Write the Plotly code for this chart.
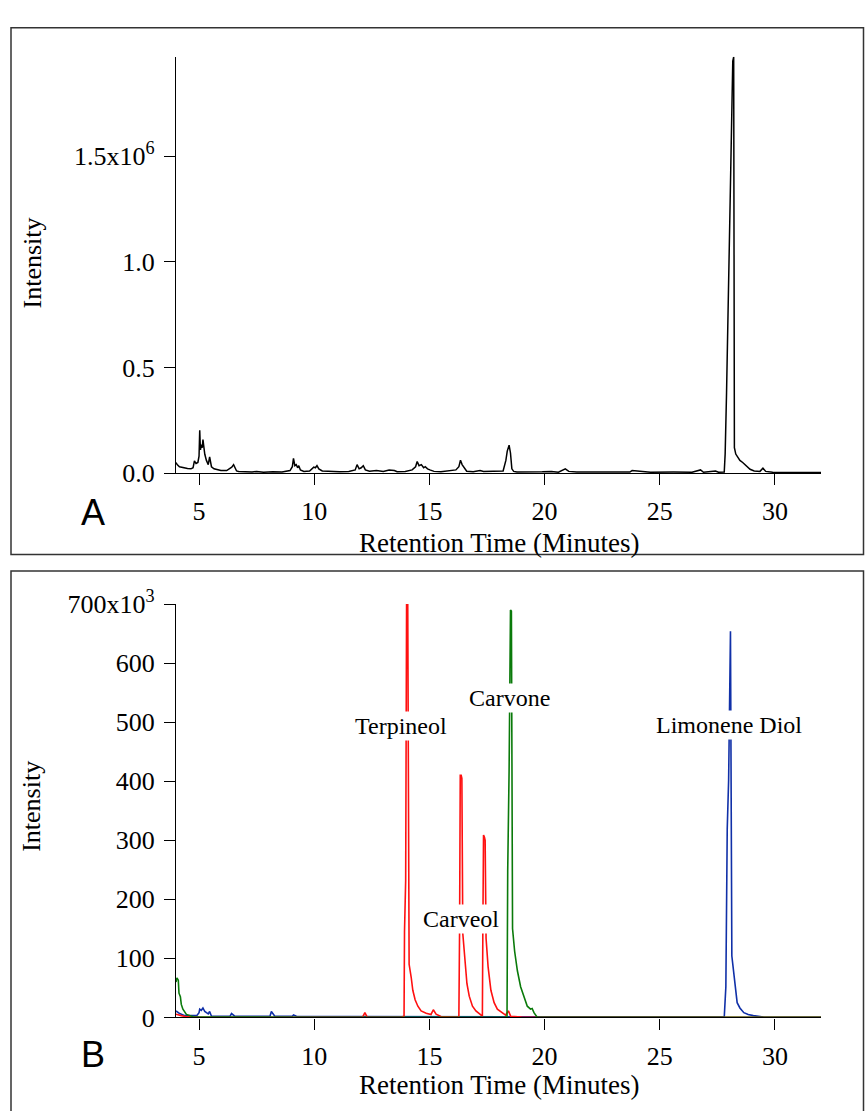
import plotly.graph_objects as go

# ---------------- Panel A: total ion chromatogram (intensity in millions) ----------------
time_a = [
    4.00, 4.05, 4.15, 4.30, 4.50, 4.65, 4.74, 4.80, 4.87, 4.95,
    5.00, 5.03, 5.06, 5.10, 5.14, 5.17, 5.21, 5.25, 5.32, 5.40,
    5.46, 5.50, 5.54, 5.65, 5.80, 5.95, 6.20, 6.42, 6.50, 6.56,
    6.63, 6.72, 6.95, 7.30, 7.50, 7.80, 8.20, 8.60, 8.95, 9.05,
    9.10, 9.16, 9.22, 9.28, 9.33, 9.40, 9.55, 9.80, 9.98, 10.05,
    10.12, 10.20, 10.35, 10.70, 11.10, 11.50, 11.78, 11.86, 11.95, 12.04,
    12.13, 12.22, 12.40, 12.70, 13.00, 13.25, 13.48, 13.60, 13.95, 14.25,
    14.40, 14.47, 14.55, 14.65, 14.75, 14.82, 14.92, 15.02, 15.20, 15.50,
    15.90, 16.15, 16.28, 16.35, 16.42, 16.50, 16.62, 16.90, 17.20, 17.35,
    17.60, 17.90, 18.20, 18.32, 18.38, 18.46, 18.52, 18.58, 18.66, 18.80,
    19.30, 19.90, 20.30, 20.60, 20.90, 21.05, 21.40, 22.10, 23.00, 23.70,
    23.80, 24.60, 25.60, 26.40, 26.77, 26.90, 27.42, 27.55, 27.80, 27.84,
    27.90, 27.97, 28.03, 28.10, 28.17, 28.21, 28.24, 28.30, 28.38, 28.48,
    28.60, 28.75, 28.92, 29.10, 29.35, 29.48, 29.60, 29.90, 30.50, 31.20,
    32.00]
int_a = [
    0.050, 0.040, 0.030, 0.025, 0.022, 0.020, 0.025, 0.058, 0.045, 0.050,
    0.080, 0.203, 0.110, 0.135, 0.120, 0.158, 0.110, 0.089, 0.060, 0.040,
    0.077, 0.040, 0.030, 0.020, 0.015, 0.012, 0.012, 0.028, 0.040, 0.025,
    0.010, 0.008, 0.006, 0.005, 0.008, 0.004, 0.006, 0.005, 0.012, 0.030,
    0.070, 0.035, 0.040, 0.025, 0.035, 0.015, 0.008, 0.010, 0.028, 0.025,
    0.035, 0.020, 0.010, 0.008, 0.006, 0.008, 0.015, 0.040, 0.020, 0.025,
    0.035, 0.015, 0.009, 0.012, 0.008, 0.015, 0.012, 0.006, 0.008, 0.015,
    0.030, 0.055, 0.035, 0.040, 0.025, 0.030, 0.020, 0.015, 0.008, 0.006,
    0.010, 0.015, 0.030, 0.061, 0.040, 0.025, 0.009, 0.006, 0.012, 0.007,
    0.008, 0.006, 0.010, 0.060, 0.104, 0.132, 0.095, 0.020, 0.008, 0.005,
    0.004, 0.006, 0.008, 0.004, 0.020, 0.008, 0.005, 0.006, 0.004, 0.005,
    0.012, 0.004, 0.005, 0.004, 0.015, 0.004, 0.010, 0.004, 0.005, 0.092,
    0.380, 0.810, 1.240, 1.710, 1.950, 1.970, 0.120, 0.090, 0.077, 0.060,
    0.050, 0.035, 0.018, 0.010, 0.008, 0.023, 0.008, 0.004, 0.003, 0.003,
    0.003]

# ---------------- Panel B: extracted ion chromatograms (intensity in thousands) ----------------
time_red = [
    4.00, 4.10, 4.23, 4.40, 4.60, 5.00, 6.00, 8.00, 10.00, 12.10,
    12.20, 12.30, 13.00, 13.80, 13.90, 13.92, 13.97, 14.01, 14.06, 14.12,
    14.21, 14.28, 14.38, 14.50, 14.64, 14.86, 15.07, 15.17, 15.29, 15.50,
    16.00, 16.28, 16.31, 16.34, 16.38, 16.41, 16.45, 16.54, 16.63, 16.73,
    16.87, 17.02, 17.20, 17.30, 17.32, 17.35, 17.39, 17.42, 17.46, 17.55,
    17.67, 17.81, 17.95, 18.17, 18.31, 18.43, 18.53, 19.00, 25.00, 32.00]
int_red = [
    5.5, 4.0, 3.0, 1.5, 0.8, 0.5, 0.3, 0.3, 0.3, 0.5,
    8.0, 0.5, 0.3, 0.5, 2.0, 145, 232, 705, 702, 90,
    68, 46, 30, 19, 11, 7, 5, 13, 5.5, 1.6,
    0.5, 1.0, 145, 410, 410, 405, 142, 96, 57, 36,
    19, 11, 5, 2, 145, 309, 305, 300, 134, 85,
    46, 25, 14, 7, 4, 11, 2, 0.5, 0.3, 0.3]

time_green = [
    4.00, 4.04, 4.10, 4.13, 4.19, 4.23, 4.30, 4.45, 4.74, 6.00,
    10.00, 15.00, 18.30, 18.37, 18.40, 18.46, 18.52, 18.56, 18.61, 18.70,
    18.82, 18.96, 19.11, 19.25, 19.39, 19.46, 19.54, 19.68, 25.00, 32.00]
int_green = [
    60, 67, 63, 41, 35, 22, 14, 5, 1, 0.5,
    0.3, 0.3, 0.3, 2, 249, 418, 690, 688, 150, 112,
    79, 52, 33, 19, 14, 15, 8, 0.5, 0.3, 0.3]

time_blue = [
    4.00, 4.16, 4.38, 4.90, 5.00, 5.03, 5.10, 5.17, 5.25, 5.32,
    5.40, 5.46, 5.54, 6.35, 6.41, 6.55, 8.08, 8.14, 8.29, 9.05,
    9.10, 9.23, 9.70, 11.50, 12.10, 12.80, 16.40, 20.00, 27.80, 27.87,
    27.90, 27.93, 27.99, 28.04, 28.07, 28.13, 28.20, 28.26, 28.36, 28.48,
    28.65, 28.84, 29.06, 29.50, 32.00]
int_blue = [
    11, 6.5, 3, 3, 8, 14, 12, 16, 10, 8,
    6, 10, 2, 2, 6.5, 2, 2, 10, 2, 2,
    4, 2, 1.5, 1.5, 1.5, 1.0, 1.0, 0.5, 0.5, 52,
    250, 320, 402, 640, 654, 104, 80, 60, 25, 16,
    8, 5, 3, 0.5, 0.3]

x_ticks = [5, 10, 15, 20, 25, 30]
a_tickvals = [0, 0.5, 1.0, 1.5]
a_ticktext = ["0.0", "0.5", "1.0", "1.5x10<sup>6</sup>"]
b_tickvals = [0, 100, 200, 300, 400, 500, 600, 700]
b_ticktext = ["0", "100", "200", "300", "400", "500", "600", "700x10<sup>3</sup>"]

peak_labels = ["Terpineol", "Carveol", "Carvone", "Limonene Diol"]
label_t = [13.78, 16.37, 18.46, 28.01]
label_i = [494, 167, 541, 495]

SERIF = "Liberation Serif"
W, H = 865, 1111

fig = go.Figure()
fig.add_trace(go.Scatter(x=time_a, y=int_a, mode="lines",
                         line=dict(color="black", width=1.5),
                         xaxis="x", yaxis="y", showlegend=False))
fig.add_trace(go.Scatter(x=time_blue, y=int_blue, mode="lines",
                         line=dict(color="#1030a8", width=1.6),
                         xaxis="x2", yaxis="y2", showlegend=False))
fig.add_trace(go.Scatter(x=time_red, y=int_red, mode="lines",
                         line=dict(color="#ff1010", width=1.6),
                         xaxis="x2", yaxis="y2", showlegend=False))
fig.add_trace(go.Scatter(x=time_green, y=int_green, mode="lines",
                         line=dict(color="#0a7a0a", width=1.6),
                         xaxis="x2", yaxis="y2", showlegend=False))

xdom = [176 / W, 821 / W]
axis_common = dict(showline=True, linecolor="black", linewidth=1.3,
                   ticks="outside", ticklen=11, tickwidth=1.3, tickcolor="black",
                   ticklabelstandoff=4,
                   showgrid=False, zeroline=False,
                   tickfont=dict(family=SERIF, size=26, color="black"))

fig.update_layout(
    width=W, height=H,
    margin=dict(l=0, r=0, t=0, b=0),
    paper_bgcolor="white", plot_bgcolor="white",
    xaxis=dict(domain=xdom, range=[4, 32], anchor="y",
               tickvals=x_ticks, **axis_common),
    yaxis=dict(domain=[1 - 469 / H, 1 - 40 / H], range=[0, 1.97], anchor="x",
               tickvals=a_tickvals, ticktext=a_ticktext, **axis_common),
    xaxis2=dict(domain=xdom, range=[4, 32], anchor="y2",
                tickvals=x_ticks, **axis_common),
    yaxis2=dict(domain=[1 - 1030 / H, 1 - 604 / H], range=[0, 700], anchor="x2",
                tickvals=b_tickvals, ticktext=b_ticktext, **axis_common),
)

# panel frames
fig.add_shape(type="rect", xref="paper", yref="paper",
              x0=11 / W, x1=863.5 / W, y0=1 - 553 / H, y1=1 - 10 / H,
              line=dict(color="#333333", width=1.5))
fig.add_shape(type="rect", xref="paper", yref="paper",
              x0=11 / W, x1=863.5 / W, y0=-0.05, y1=1 - 570 / H,
              line=dict(color="#333333", width=1.5))

ann = []
# axis titles
for yc in (253, 813):
    ann.append(dict(text="Intensity", x=32 / W, y=1 - yc / H, xref="paper", yref="paper",
                    textangle=-90, showarrow=False, xanchor="center", yanchor="middle",
                    font=dict(family=SERIF, size=26, color="black")))
for yc in (541, 1100):
    ann.append(dict(text="Retention Time (Minutes)", x=499 / W, y=1 - yc / H,
                    xref="paper", yref="paper", showarrow=False,
                    xanchor="center", yanchor="middle",
                    font=dict(family=SERIF, size=27, color="black")))
# panel letters
for letter, yc in (("A", 510), ("B", 1068)):
    ann.append(dict(text=letter, x=93 / W, y=1 - yc / H, xref="paper", yref="paper",
                    showarrow=False, xanchor="center", yanchor="middle",
                    font=dict(family="Liberation Sans", size=36, color="black")))
# peak labels
for name, t, v in zip(peak_labels, label_t, label_i):
    ann.append(dict(text=name, x=t, y=v, xref="x2", yref="y2", showarrow=False,
                    xanchor="center", yanchor="middle", bgcolor="white", borderpad=1,
                    font=dict(family=SERIF, size=24, color="black")))
fig.update_layout(annotations=ann)

fig.write_html("out.html")
